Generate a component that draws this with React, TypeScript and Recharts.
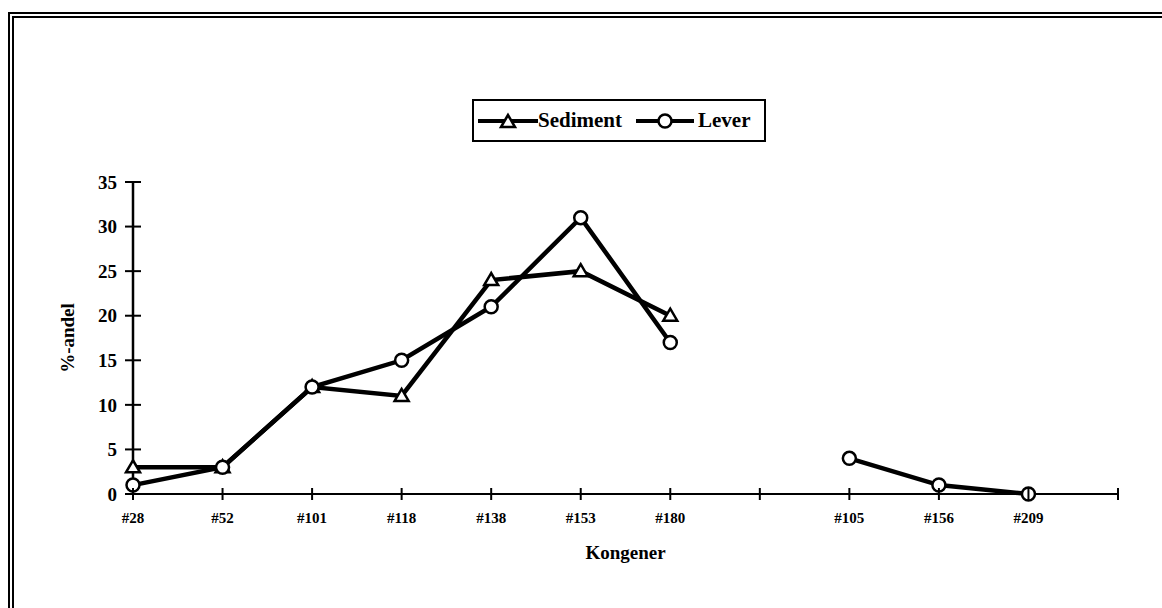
import { LineChart, Line, XAxis, YAxis, Legend } from "recharts";

const categories = ["#28", "#52", "#101", "#118", "#138", "#153", "#180", "", "#105", "#156", "#209", ""];
const sediment = [3, 3, 12, 11, 24, 25, 20, null, null, null, null, null];
const lever = [1, 3, 12, 15, 21, 31, 17, null, 4, 1, 0, null];
const yTicks = [0, 5, 10, 15, 20, 25, 30, 35];

const data = categories.map((label, i) => ({
  slot: i,
  label,
  sediment: sediment[i],
  lever: lever[i],
}));

const FONT = '"Liberation Serif", "Times New Roman", serif';
const Y_GAP = 16;
const X_GAP = 18;

function YTick(props: any) {
  const { x, y, payload } = props;
  const ax = x + Y_GAP;
  return (
    <g>
      <line x1={ax - 8} x2={ax + 8} y1={y} y2={y} stroke="#000" strokeWidth={2} />
      <text x={x} y={y} dy="0.35em" textAnchor="end" fontFamily={FONT} fontWeight="bold" fontSize={19} fill="#000">
        {payload.value}
      </text>
    </g>
  );
}

function XTick(props: any) {
  const { x, y, payload } = props;
  const ay = y - X_GAP;
  return (
    <g>
      <line x1={x} x2={x} y1={ay - 6} y2={ay + 6} stroke="#000" strokeWidth={2} />
      <text x={x} y={y} dy="0.75em" textAnchor="middle" fontFamily={FONT} fontWeight="bold" fontSize={15} fill="#000">
        {categories[payload.value]}
      </text>
    </g>
  );
}

function Triangle({ cx, cy }: { cx: number; cy: number }) {
  return (
    <polygon
      points={`${cx},${cy - 7} ${cx - 7},${cy + 5} ${cx + 7},${cy + 5}`}
      fill="#fff"
      stroke="#000"
      strokeWidth={2.5}
    />
  );
}

function TriangleDot(props: any) {
  const { cx, cy, index } = props;
  if (cx == null || cy == null || props.value == null) return <g key={`t${index}`} />;
  return (
    <g key={`t${index}`}>
      <Triangle cx={cx} cy={cy} />
    </g>
  );
}

function CircleDot(props: any) {
  const { cx, cy, index } = props;
  if (cx == null || cy == null || props.value == null) return <g key={`c${index}`} />;
  return <circle key={`c${index}`} cx={cx} cy={cy} r={6.5} fill="#fff" stroke="#000" strokeWidth={2.5} />;
}

function LegendBox() {
  return (
    <div
      style={{
        boxSizing: "border-box",
        width: 294,
        height: 43,
        border: "2px solid #000",
        display: "flex",
        alignItems: "center",
        paddingLeft: 4,
        fontFamily: FONT,
        fontWeight: "bold",
        fontSize: 21,
        color: "#000",
        background: "#fff",
        whiteSpace: "nowrap",
      }}
    >
      <svg width={60} height={20}>
        <line x1={0} x2={60} y1={10} y2={10} stroke="#000" strokeWidth={4} />
        <Triangle cx={30} cy={11} />
      </svg>
      <span>Sediment</span>
      <svg width={58} height={20} style={{ marginLeft: 14 }}>
        <line x1={0} x2={58} y1={10} y2={10} stroke="#000" strokeWidth={4} />
        <circle cx={29} cy={10} r={6.5} fill="#fff" stroke="#000" strokeWidth={2.5} />
      </svg>
      <span style={{ marginLeft: 4 }}>Lever</span>
    </div>
  );
}

export default function App() {
  return (
    <div style={{ position: "absolute", left: 0, top: 0, width: 1162, height: 608, background: "#fff", overflow: "hidden" }}>
      <div
        style={{
          position: "absolute",
          left: 8,
          top: 12,
          width: 1300,
          height: 800,
          borderLeft: "6px double #000",
          borderTop: "6px double #000",
        }}
      />
      <div style={{ position: "absolute", left: 0, top: 0 }}>
        <LineChart
          width={1162}
          height={608}
          data={data}
          margin={{ top: 182, right: 44, left: 53, bottom: 74 }}
          style={{ fontFamily: FONT }}
        >
          <XAxis
            dataKey="slot"
            type="category"
            interval={0}
            height={40}
            tickSize={0}
            tickMargin={X_GAP}
            tickLine={false}
            tick={<XTick />}
            axisLine={{ stroke: "#000", strokeWidth: 2 }}
            label={{
              value: "Kongener",
              position: "bottom",
              offset: 12,
              style: { fontFamily: FONT, fontWeight: "bold", fontSize: 19, fill: "#000" },
            }}
          />
          <YAxis
            domain={[0, 35]}
            ticks={yTicks}
            width={80}
            tickSize={0}
            tickMargin={Y_GAP}
            tickLine={false}
            tick={<YTick />}
            axisLine={{ stroke: "#000", strokeWidth: 2.5 }}
            label={{
              value: "%-andel",
              angle: -90,
              position: "insideLeft",
              offset: 14,
              style: { textAnchor: "middle", fontFamily: FONT, fontWeight: "bold", fontSize: 19, fill: "#000" },
            }}
          />
          <Legend
            verticalAlign="middle"
            align="center"
            layout="horizontal"
            content={() => <LegendBox />}
            wrapperStyle={{ left: 472, top: 99, width: 294, height: 43 }}
          />
          <Line
            dataKey="sediment"
            name="Sediment"
            stroke="#000"
            strokeWidth={4.5}
            dot={TriangleDot}
            activeDot={false}
            isAnimationActive={false}
          />
          <Line
            dataKey="lever"
            name="Lever"
            stroke="#000"
            strokeWidth={4.5}
            dot={CircleDot}
            activeDot={false}
            isAnimationActive={false}
          />
        </LineChart>
      </div>
    </div>
  );
}
